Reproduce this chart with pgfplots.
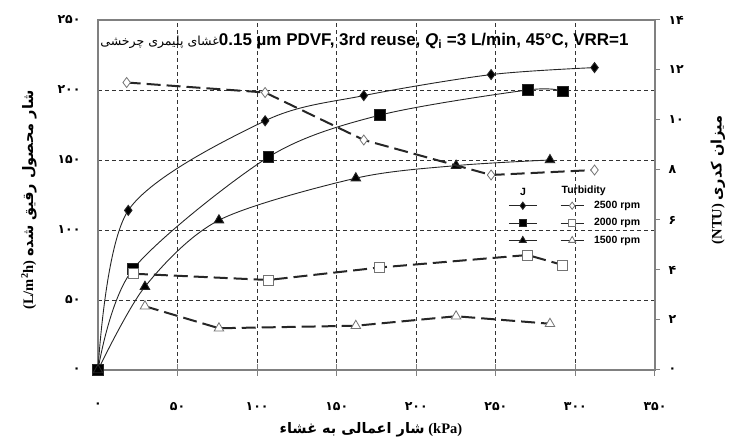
\documentclass[border=0pt]{standalone}
\usepackage{pgfplots}
\pgfplotsset{compat=1.18}
\usepackage{fontspec}
\setmainfont{Liberation Serif}
\setsansfont{Liberation Sans}
\newfontfamily\arabicfont[Script=Arabic]{DejaVu Sans}
\TeXXeTstate=1

% Flux J (left axis, L/m^2h) against transmembrane pressure (kPa)
\pgfplotstableread{
x y
0 0
19 114
105 178
167 196
247 211
312 216
}\jA
\pgfplotstableread{
x y
0 0
22 72
107 152
177 182
270 200
292 199
}\jB
\pgfplotstableread{
x y
0 0
29.5 59.5
76 107
162 137
225 146
284 150
}\jC
% Turbidity (right axis, NTU)
\pgfplotstableread{
x y
18 11.5
105 11.1
167 9.2
247 7.8
312 8.0
}\tA
\pgfplotstableread{
x y
22.5 3.85
107 3.6
177 4.1
270 4.6
292 4.2
}\tB
\pgfplotstableread{
x y
29.5 2.55
76 1.67
162 1.77
225 2.15
284 1.85
}\tC

\tikzset{openmark/.style={solid, draw=black!55, fill=white, line width=0.8pt}}
\pgfplotsset{
  jline/.style={black!85, line width=0.9pt, smooth},
  tline/.style={black!85, line width=2pt, dash pattern=on 14pt off 6pt},
  jleg/.style={legend image code/.code={%
    \draw[mark repeat=2,mark phase=2,##1,every mark/.append style={scale=0.72}]
      plot coordinates {(0pt,0pt) (14pt,0pt) (28pt,0pt)};}},
  tleg/.style={legend image code/.code={%
    \draw[mark repeat=2,mark phase=2,##1,solid,line width=0.8pt,every mark/.append style={scale=0.72}]
      plot coordinates {(0pt,0pt) (11.5pt,0pt) (23pt,0pt)};}},
}

\begin{document}
\begin{tikzpicture}
\path[use as bounding box] (0,0) rectangle (732pt,441pt);

\begin{axis}[
  at={(98pt,71pt)}, anchor=south west,
  scale only axis, width=557pt, height=350pt,
  xmin=0, xmax=350, ymin=0, ymax=250,
  xtick={0,50,...,350},
  xticklabels={۰,۵۰,۱۰۰,۱۵۰,۲۰۰,۲۵۰,۳۰۰,۳۵۰},
  ytick={0,50,...,250},
  yticklabels={۰,۵۰,۱۰۰,۱۵۰,۲۰۰,۲۵۰},
  xtick pos=lower, ytick pos=left,
  minor xtick={50,100,...,300}, minor ytick={50,100,150,200},
  grid=minor,
  minor grid style={black!80, dash pattern=on 4pt off 3pt, line width=0.9pt},
  tick align=center, major tick length=12pt, minor tick length=0pt,
  xtick style={gray, line width=1pt},
  ytick style={draw=none},
  axis line style={gray, line width=1.3pt},
  ticklabel style={font=\arabicfont\bfseries\fontsize{12.5}{14}\selectfont},
  xticklabel style={yshift=-23pt},
  yticklabel style={xshift=-8pt},
  xlabel={{\arabicfont\bfseries\beginR شار اعمالی به غشاء\endR} {\bfseries(kPa)}},
  ylabel={{\bfseries(L/m\textsuperscript{2}h)} {\arabicfont\bfseries\beginR شار محصول رقیق شده\endR}},
  every axis x label/.style={at={(axis description cs:0.49,-0.171)}, anchor=center,
    font=\fontsize{14.5}{17}\selectfont},
  every axis y label/.style={at={(axis description cs:-0.124,0.486)}, anchor=center, rotate=90,
    font=\fontsize{14.5}{17}\selectfont},
  clip=false,
]
\addplot[jline, mark=diamond*, mark size=5pt, mark options={solid, fill=black}] table {\jA};
\addplot[jline, mark=square*, mark size=5.3pt, mark options={solid, fill=black}] table {\jB};
\addplot[jline, mark=triangle*, mark size=5.5pt, mark options={solid, fill=black}] table {\jC};
\node[anchor=west, inner sep=0pt] at (axis description cs:0.004,0.94)
  {{\arabicfont\fontsize{12.5}{14}\selectfont\beginR غشای پلیمری چرخشی\endR}{\sffamily\bfseries\fontsize{17}{20}\selectfont 0.15 µm PDVF, 3rd reuse, \textit{Q}\textsubscript{i} =3 L/min, 45°C, VRR=1}};
\end{axis}

\begin{axis}[
  at={(98pt,71pt)}, anchor=south west,
  scale only axis, width=557pt, height=350pt,
  xmin=0, xmax=350, ymin=0, ymax=14,
  axis x line=none, axis y line*=right,
  ytick={0,2,...,14},
  yticklabels={۰,۲,۴,۶,۸,۱۰,۱۲,۱۴},
  tick align=outside, major tick length=5pt,
  ytick style={gray, line width=1pt},
  axis line style={gray, line width=1.3pt},
  ticklabel style={font=\arabicfont\bfseries\fontsize{12.5}{14}\selectfont},
  yticklabel style={xshift=5pt},
  ylabel={{\bfseries(NTU)} {\arabicfont\bfseries\beginR میزان کدری\endR}},
  every axis y label/.style={at={(axis description cs:1.113,0.543)}, anchor=center, rotate=90,
    font=\fontsize{14.5}{17}\selectfont},
  legend columns=2,
  legend style={at={(axis description cs:0.731,0.494)}, anchor=north west,
    draw=none, fill=none, font=\sffamily\bfseries\fontsize{10.5}{12}\selectfont,
    column sep=8pt, row sep=4.5pt,
    /tikz/every even column/.append style={column sep=11pt}},
  clip=false,
]
\addlegendimage{jline, jleg, mark=diamond*, mark size=5pt, mark options={solid, fill=black}}
\addlegendentry{\mbox{}}
\addplot[tline, tleg, mark=diamond*, mark size=5pt, mark options={openmark}] table {\tA};
\addlegendentry{2500 rpm}
\addlegendimage{jline, jleg, mark=square*, mark size=5.3pt, mark options={solid, fill=black}}
\addlegendentry{\mbox{}}
\addplot[tline, tleg, mark=square*, mark size=5pt, mark options={openmark}] table {\tB};
\addlegendentry{2000 rpm}
\addlegendimage{jline, jleg, mark=triangle*, mark size=5.5pt, mark options={solid, fill=black}}
\addlegendentry{\mbox{}}
\addplot[tline, tleg, mark=triangle*, mark size=5.5pt, mark options={openmark}] table {\tC};
\addlegendentry{1500 rpm}
\node[font=\sffamily\bfseries\fontsize{10.5}{12}\selectfont] at (axis description cs:0.763,0.509) {J};
\node[font=\sffamily\bfseries\fontsize{10.5}{12}\selectfont] at (axis description cs:0.872,0.512) {Turbidity};
\end{axis}
\end{tikzpicture}
\end{document}
